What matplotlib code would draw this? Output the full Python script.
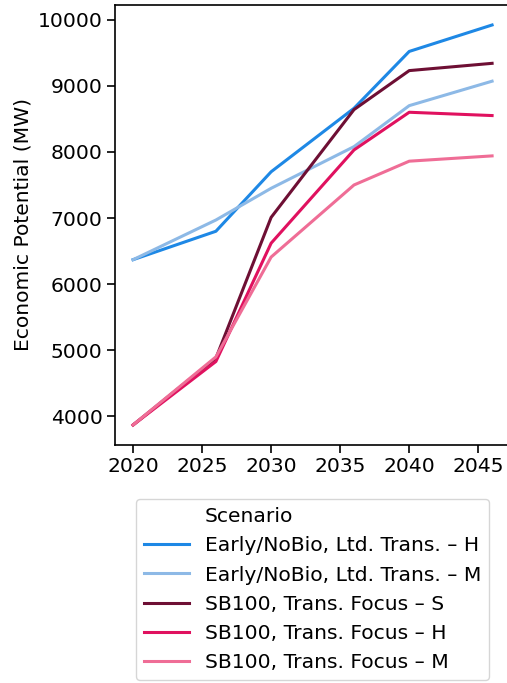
import matplotlib.pyplot as plt
from matplotlib.lines import Line2D

years = [2020, 2026, 2030, 2036, 2040, 2046]

scenarios = [
    "Early/NoBio, Ltd. Trans. – H",
    "Early/NoBio, Ltd. Trans. – M",
    "SB100, Trans. Focus – S",
    "SB100, Trans. Focus – H",
    "SB100, Trans. Focus – M",
]
early_h = [6370, 6800, 7700, 8660, 9520, 9920]
early_m = [6370, 6970, 7450, 8080, 8700, 9070]
sb100_s = [3870, 4880, 7010, 8640, 9230, 9340]
sb100_h = [3870, 4830, 6620, 8030, 8600, 8550]
sb100_m = [3870, 4900, 6410, 7500, 7860, 7940]
series = [early_h, early_m, sb100_s, sb100_h, sb100_m]
colors = ["#1e88e5", "#8db9e6", "#6e0f34", "#e0115f", "#ef6d96"]

plt.rcParams["font.size"] = 14.6

fig = plt.figure(figsize=(5.07, 6.83), dpi=100)
# axes runs slightly past the right edge of the figure
ax = fig.add_axes([0.227, 0.3485, 0.779, 0.6442])

handles = [Line2D([], [], linestyle="none", label="Scenario")]
for vals, c, name in zip(series, colors, scenarios):
    line, = ax.plot(years, vals, color=c, lw=2.2, label=name)
    handles.append(line)

ax.set_xticks([2020, 2025, 2030, 2035, 2040, 2045])
ax.set_yticks(range(4000, 10001, 1000))
ax.set_ylabel("Economic Potential (MW)", fontsize=14.6)
ax.tick_params(length=5.5, width=1.2)
for s in ax.spines.values():
    s.set_linewidth(1.2)

ax.legend(handles=handles, loc="upper center", bbox_to_anchor=(0.5, -0.10),
          handlelength=2.2, labelspacing=0.5, borderpad=0.4, fontsize=14.6)

fig.savefig("out.png", dpi=100)
